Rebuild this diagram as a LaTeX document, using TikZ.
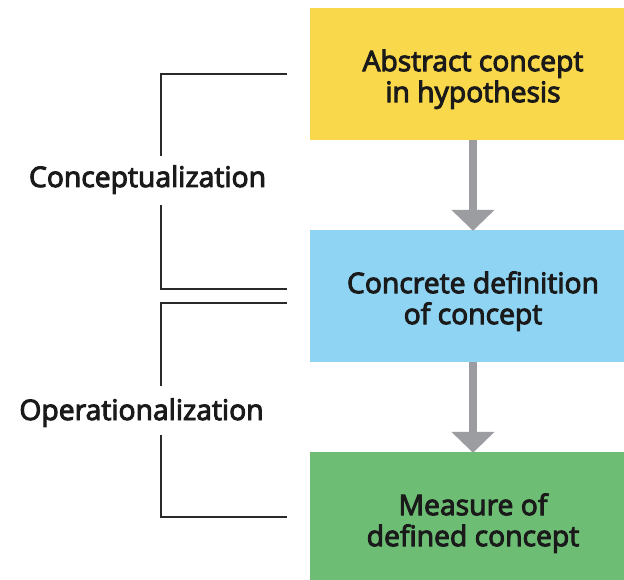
\documentclass[tikz,border=0pt]{standalone}
\usepackage{fontspec}
\setmainfont{Open Sans}[FakeBold=3.5]
\usetikzlibrary{arrows.meta}
\definecolor{boxyellow}{HTML}{FAD84B}
\definecolor{boxblue}{HTML}{8FD4F2}
\definecolor{boxgreen}{HTML}{6DBE74}
\definecolor{arrowgray}{HTML}{9C9DA1}
\definecolor{inkdark}{HTML}{1A1A1A}
\definecolor{bracketdark}{HTML}{2A2A2A}
\newcommand\toplinestrut{\rule{0pt}{32pt}}
\tikzset{
  stagebox/.style={rectangle, minimum width=326pt, minimum height=132pt, inner sep=0pt,
    align=center, text=inkdark, font=\fontsize{28.3pt}{31pt}\selectfont},
  flowarrow/.style={draw=arrowgray, line width=8pt, -{Triangle[width=42pt,length=21pt]}},
  bracketline/.style={draw=bracketdark, line width=1.6pt},
  sidelabel/.style={text=inkdark, font=\fontsize{28.3pt}{31pt}\selectfont, inner sep=0pt, anchor=base}
}
\begin{document}
\begin{tikzpicture}[x=1pt,y=-1pt]
\useasboundingbox (0,0) rectangle (624,580);
\clip (0,0) rectangle (624,580);
\fill[white] (0,0) rectangle (624,580);
\node[stagebox, fill=boxyellow] (abstract) at (473,74) {\toplinestrut Abstract concept\\in hypothesis};
\node[stagebox, fill=boxblue] (concrete) at (473,296) {\toplinestrut Concrete definition\\of concept};
\node[stagebox, fill=boxgreen] (measure) at (473,518) {\toplinestrut Measure of\\defined concept};
\draw[flowarrow] (abstract.south) -- ([yshift=-1pt]concrete.north);
\draw[flowarrow] (concrete.south) -- ([yshift=-1pt]measure.north);
\node[sidelabel] (concept) at (147.5,187) {Conceptualization};
\node[sidelabel] (oper) at (141.5,420) {Operationalization};
\coordinate (c1) at (287,74);
\coordinate (c2) at (161,156);
\coordinate (c3) at (161,205);
\coordinate (c4) at (287,289);
\coordinate (o1) at (287,303);
\coordinate (o2) at (161,386);
\coordinate (o3) at (161,435);
\coordinate (o4) at (287,517);
\draw[bracketline] (c1) -| (c2);
\draw[bracketline] (c3) |- (c4);
\draw[bracketline] (o1) -| (o2);
\draw[bracketline] (o3) |- (o4);
\end{tikzpicture}
\end{document}
